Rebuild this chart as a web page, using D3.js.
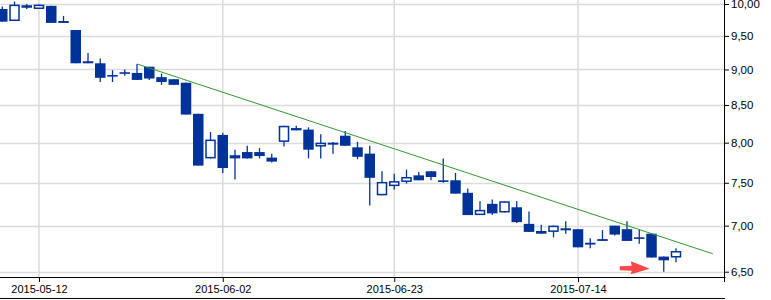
<!DOCTYPE html>
<html>
<head>
<meta charset="utf-8">
<script src="https://cdn.jsdelivr.net/npm/d3@7"></script>
<style>
  body { margin: 0; background: #fff; }
  svg { display: block; font-family: 'Liberation Sans', Arial, sans-serif; }
</style>
</head>
<body>
<div id="wrapper"></div>
<script>
// trading days (GPW, 2015-06-04 closed)
const dates = [
  '2015-05-07', '2015-05-08', '2015-05-11', '2015-05-12', '2015-05-13', '2015-05-14', '2015-05-15',
  '2015-05-18', '2015-05-19', '2015-05-20', '2015-05-21', '2015-05-22', '2015-05-25', '2015-05-26',
  '2015-05-27', '2015-05-28', '2015-05-29', '2015-06-01', '2015-06-02', '2015-06-03', '2015-06-05',
  '2015-06-08', '2015-06-09', '2015-06-10', '2015-06-11', '2015-06-12', '2015-06-15', '2015-06-16',
  '2015-06-17', '2015-06-18', '2015-06-19', '2015-06-22', '2015-06-23', '2015-06-24', '2015-06-25',
  '2015-06-26', '2015-06-29', '2015-06-30', '2015-07-01', '2015-07-02', '2015-07-03', '2015-07-06',
  '2015-07-07', '2015-07-08', '2015-07-09', '2015-07-10', '2015-07-13', '2015-07-14', '2015-07-15',
  '2015-07-16', '2015-07-17', '2015-07-20', '2015-07-21', '2015-07-22', '2015-07-23', '2015-07-24',
];
const futureDates = ['2015-07-27', '2015-07-28', '2015-07-29'];

const opens = [
  9.92, 9.73, 9.98, 9.92, 9.97, 9.73, 9.59, 9.12, 9.09, 8.92, 8.96, 8.95, 9.04, 8.89,
  8.86, 8.81, 8.38, 7.80, 8.10, 7.84, 7.88, 7.88, 7.81, 8.01, 8.19, 8.17, 7.95, 7.99,
  8.09, 7.94, 7.86, 7.35, 7.46, 7.51, 7.59, 7.64, 7.53, 7.53, 7.38, 7.12, 7.25, 7.15,
  7.21, 7.02, 6.94, 6.93, 6.95, 6.96, 6.81, 6.85, 7.00, 6.96, 6.87, 6.91, 6.66, 6.65,
];
const highs = [
  9.96, 10.04, 10.00, 9.99, 9.97, 9.81, 9.59, 9.24, 9.16, 8.99, 9.00, 9.08, 9.04, 8.94,
  8.86, 8.81, 8.38, 8.14, 8.13, 7.91, 7.96, 7.93, 7.86, 8.22, 8.22, 8.20, 8.11, 8.01,
  8.15, 8.01, 7.96, 7.64, 7.61, 7.66, 7.63, 7.64, 7.80, 7.62, 7.43, 7.28, 7.30, 7.28,
  7.28, 7.16, 7.01, 7.00, 7.05, 6.96, 6.86, 6.95, 7.00, 7.05, 6.95, 6.91, 6.66, 6.75,
];
const lows = [
  9.72, 9.73, 9.92, 9.92, 9.70, 9.70, 9.09, 9.09, 8.82, 8.82, 8.91, 8.85, 8.85, 8.78,
  8.78, 8.37, 7.71, 7.80, 7.62, 7.54, 7.80, 7.80, 7.75, 7.95, 8.16, 7.80, 7.80, 7.86,
  7.96, 7.79, 7.23, 7.35, 7.42, 7.49, 7.53, 7.53, 7.50, 7.37, 7.12, 7.12, 7.12, 7.15,
  7.03, 6.93, 6.91, 6.87, 6.91, 6.76, 6.75, 6.83, 6.89, 6.83, 6.80, 6.65, 6.50, 6.60,
];
const closes = [
  9.72, 9.99, 9.94, 9.99, 9.70, 9.70, 9.09, 9.09, 8.88, 8.92, 8.96, 8.85, 8.87, 8.82,
  8.78, 8.37, 7.71, 8.04, 7.68, 7.80, 7.80, 7.83, 7.76, 8.22, 8.16, 7.91, 8.00, 8.00,
  7.96, 7.82, 7.56, 7.51, 7.52, 7.57, 7.53, 7.57, 7.51, 7.37, 7.12, 7.18, 7.14, 7.28,
  7.04, 6.93, 6.91, 7.00, 6.97, 6.76, 6.79, 6.83, 6.90, 6.83, 6.86, 6.65, 6.62, 6.72,
];

const dateTicks = ['2015-05-12', '2015-06-02', '2015-06-23', '2015-07-14'];
const priceTicks = [6.5, 7, 7.5, 8, 8.5, 9, 9.5, 10];

// resistance line, drawn from the 05-22 high
const trendDates = ['2015-05-22', '2015-07-29'];
const trendValues = [9.08, 6.69];

// marker arrow under the last sessions
const arrowDate = '2015-07-23';
const arrowValue = 6.53;

function drawChart() {
  const width = 771;
  const height = 300;
  const plotRight = 725;
  const plotBottom = 278;

  const calendar = dates.concat(futureDates);
  const idx = (d) => calendar.indexOf(d);

  const candles = dates.map((d, i) => ({
    i: i, open: opens[i], high: highs[i], low: lows[i], close: closes[i],
  }));

  // scales: one trading day = 12.25px, log price axis
  const x = d3.scaleLinear().domain([-0.184, 59]).range([0, plotRight]);
  const y = d3.scaleLog().domain([6.5, 10]).range([271.7, 4]);

  const svg = d3.select('#wrapper').append('svg').attr('width', width).attr('height', height);

  svg.append('defs').append('clipPath').attr('id', 'plot')
    .append('rect').attr('x', 0).attr('y', 0).attr('width', plotRight).attr('height', plotBottom);

  // grid
  svg.append('g')
    .selectAll('line')
    .data(priceTicks)
    .enter()
    .append('line')
    .attr('x1', 0)
    .attr('x2', plotRight)
    .attr('y1', (d) => Math.round(y(d)) + 0.5)
    .attr('y2', (d) => Math.round(y(d)) + 0.5)
    .attr('stroke', '#dcdcdc')
    .attr('stroke-width', 1.5);

  svg.append('g')
    .selectAll('line')
    .data(dateTicks)
    .enter()
    .append('line')
    .attr('x1', (d) => x(idx(d)))
    .attr('x2', (d) => x(idx(d)))
    .attr('y1', 0)
    .attr('y2', plotBottom)
    .attr('stroke', '#dcdcdc')
    .attr('stroke-width', 1.5);

  const plot = svg.append('g').attr('clip-path', 'url(#plot)');
  const blue = '#003399';
  const bodyW = 10.5;

  // wicks
  plot.append('g')
    .selectAll('line')
    .data(candles)
    .enter()
    .append('line')
    .attr('x1', (d) => x(d.i))
    .attr('x2', (d) => x(d.i))
    .attr('y1', (d) => y(d.high))
    .attr('y2', (d) => y(d.low))
    .attr('stroke', blue)
    .attr('stroke-width', 1.3);

  // bodies
  plot.append('g')
    .selectAll('rect')
    .data(candles)
    .enter()
    .append('rect')
    .attr('x', (d) => (d.close > d.open ? x(d.i) - bodyW / 2 + 0.75 : x(d.i) - bodyW / 2))
    .attr('width', (d) => (d.close > d.open ? bodyW - 1.5 : bodyW))
    .attr('y', (d) => {
      const top = y(Math.max(d.open, d.close));
      return d.close > d.open ? top + 0.75 : top;
    })
    .attr('height', (d) => {
      const h = y(Math.min(d.open, d.close)) - y(Math.max(d.open, d.close));
      return d.close > d.open ? Math.max(h - 1.5, 0.5) : Math.max(h, 1.6);
    })
    .attr('fill', (d) => (d.close > d.open ? '#fff' : blue))
    .attr('stroke', (d) => (d.close > d.open ? blue : 'none'))
    .attr('stroke-width', 1.5);

  // trend line
  plot.append('line')
    .attr('x1', x(idx(trendDates[0])))
    .attr('y1', y(trendValues[0]))
    .attr('x2', x(idx(trendDates[1])))
    .attr('y2', y(trendValues[1]))
    .attr('stroke', '#2f9a2f')
    .attr('stroke-width', 1);

  // red arrow
  const ax = x(idx(arrowDate)) - 14;
  const ay = y(arrowValue);
  svg.append('path')
    .attr('d', `M${ax - 30},${ay - 2.5} L${ax - 18},${ay - 3} L${ax - 19},${ay - 7.5} L${ax},${ay} `
      + `L${ax - 19},${ay + 5.5} L${ax - 18},${ay + 2} L${ax - 30},${ay + 1.5} Z`)
    .attr('fill', '#ff4646');

  // axes
  const yAxis = d3.axisRight(y)
    .tickValues(priceTicks)
    .tickFormat((d) => d3.format('.2f')(d).replace('.', ','))
    .tickSize(4)
    .tickPadding(2);

  const yAxisG = svg.append('g').attr('transform', `translate(${plotRight},0)`).call(yAxis);
  yAxisG.select('.domain').remove();
  yAxisG.selectAll('text').attr('font-size', 11.5).attr('font-family', 'Liberation Sans, Arial, sans-serif');

  const xAxis = d3.axisBottom(x)
    .tickValues(dateTicks.map(idx))
    .tickFormat((d) => calendar[d])
    .tickSize(4)
    .tickSizeOuter(0)
    .tickPadding(3);

  const xAxisG = svg.append('g').attr('transform', `translate(0,${plotBottom})`).call(xAxis);
  xAxisG.select('.domain').remove();
  xAxisG.selectAll('text').attr('font-size', 11).attr('font-family', 'Liberation Sans, Arial, sans-serif');

  svg.append('line')
    .attr('x1', 0).attr('x2', plotRight + 0.5)
    .attr('y1', plotBottom - 0.5).attr('y2', plotBottom - 0.5)
    .attr('stroke', '#000');

  svg.append('line')
    .attr('x1', plotRight - 0.5).attr('x2', plotRight - 0.5)
    .attr('y1', 0).attr('y2', plotBottom + 4)
    .attr('stroke', '#000');

  svg.append('line')
    .attr('x1', 0).attr('x2', plotRight)
    .attr('y1', 298.5).attr('y2', 298.5)
    .attr('stroke', '#000');
}

drawChart();
</script>
</body>
</html>
